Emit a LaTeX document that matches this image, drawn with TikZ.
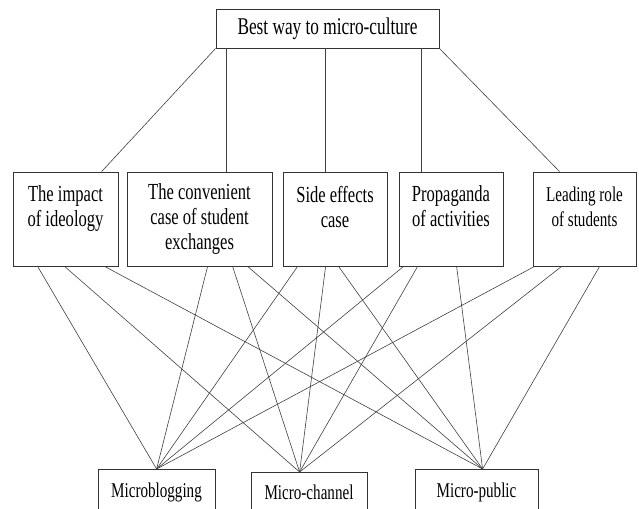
\documentclass[tikz,border=0pt]{standalone}
\usepackage{fontspec}
\setmainfont[FakeStretch=0.72]{Liberation Serif}
\usetikzlibrary{calc}
\begin{document}
\begin{tikzpicture}[x=1pt,y=-1pt,
  box/.style={draw=black!80,line width=0.8pt,rectangle,inner sep=0pt,align=center},
  topbox/.style={box,minimum width=223pt,minimum height=39pt,font=\fontsize{24}{26}\selectfont},
  midbox/.style={box,minimum height=94pt,font=\fontsize{23}{25}\selectfont},
  botbox/.style={box,minimum height=42pt,text depth=0pt,font=\fontsize{21}{23}\selectfont},
  link/.style={draw=black!75,line width=0.6pt}]
\useasboundingbox (0,0) rectangle (639,508);
\clip (0,0) rectangle (639,508);
% top
\node[topbox] (top) at (327.5,28.5) {Best way to micro-culture};
% middle
\node[midbox,minimum width=105pt] (b1) at (65.5,219) {The impact\\of ideology\\\mbox{}};
\node[midbox,minimum width=145pt] (b2) at (199.5,219) {The convenient\\case of student\\exchanges};
\node[midbox,minimum width=104pt] (b3) at (335,219) {Side effects\\case\\\mbox{}};
\node[midbox,minimum width=104pt] (b4) at (451,219) {Propaganda\\of activities\\\mbox{}};
\node[midbox,minimum width=103pt,font=\fontsize{21}{25}\selectfont] (b5) at (584.5,219) {Leading role\\of students\\\mbox{}};
% bottom
\node[botbox,minimum width=117pt,anchor=north] (mb) at (156.5,469) {Microblogging};
\node[botbox,minimum width=116pt,minimum height=40pt,anchor=north] (mc) at (309,472) {Micro-channel};
\node[botbox,minimum width=123pt,anchor=north] (mp) at (476.5,469) {Micro-public};
% top links
\draw[link] (top.south west) -- ($(b1.north west)+(89,0)$);
\draw[link] ($(top.south west)+(11,0)$) -- ($(b2.north west)+(100,0)$);
\draw[link] ($(top.south west)+(110,0)$) -- ($(b3.north west)+(43,0)$);
\draw[link] ($(top.south west)+(206,0)$) -- ($(b4.north west)+(23,0)$);
\draw[link] (top.south east) -- ($(b5.north west)+(27,0)$);
% convergence points
\coordinate (pmb) at ($(mb.north west)+(59,0)$);
\coordinate (pmc) at ($(mc.north west)+(49,0)$);
\coordinate (pmp) at ($(mp.north west)+(68,0)$);
% bottom links
\draw[link] ($(b1.south west)+(25,0)$) -- (pmb);
\draw[link] ($(b1.south west)+(52,0)$) -- (pmc);
\draw[link] ($(b1.south west)+(92,0)$) -- (pmp);
\draw[link] ($(b2.south west)+(81,0)$) -- (pmb);
\draw[link] ($(b2.south west)+(106,0)$) -- (pmc);
\draw[link] ($(b2.south west)+(121,0)$) -- (pmp);
\draw[link] ($(b3.south west)+(15,0)$) -- (pmb);
\draw[link] ($(b3.south west)+(43,0)$) -- (pmc);
\draw[link] ($(b3.south west)+(56,0)$) -- (pmp);
\draw[link] ($(b4.south west)+(5,0)$) -- (pmb);
\draw[link] ($(b4.south west)+(19,0)$) -- (pmc);
\draw[link] ($(b4.south west)+(58,0)$) -- (pmp);
\draw[link] ($(b5.south west)+(2,0)$) -- (pmb);
\draw[link] ($(b5.south west)+(29,0)$) -- (pmc);
\draw[link] ($(b5.south west)+(67,0)$) -- (pmp);
\end{tikzpicture}
\end{document}
